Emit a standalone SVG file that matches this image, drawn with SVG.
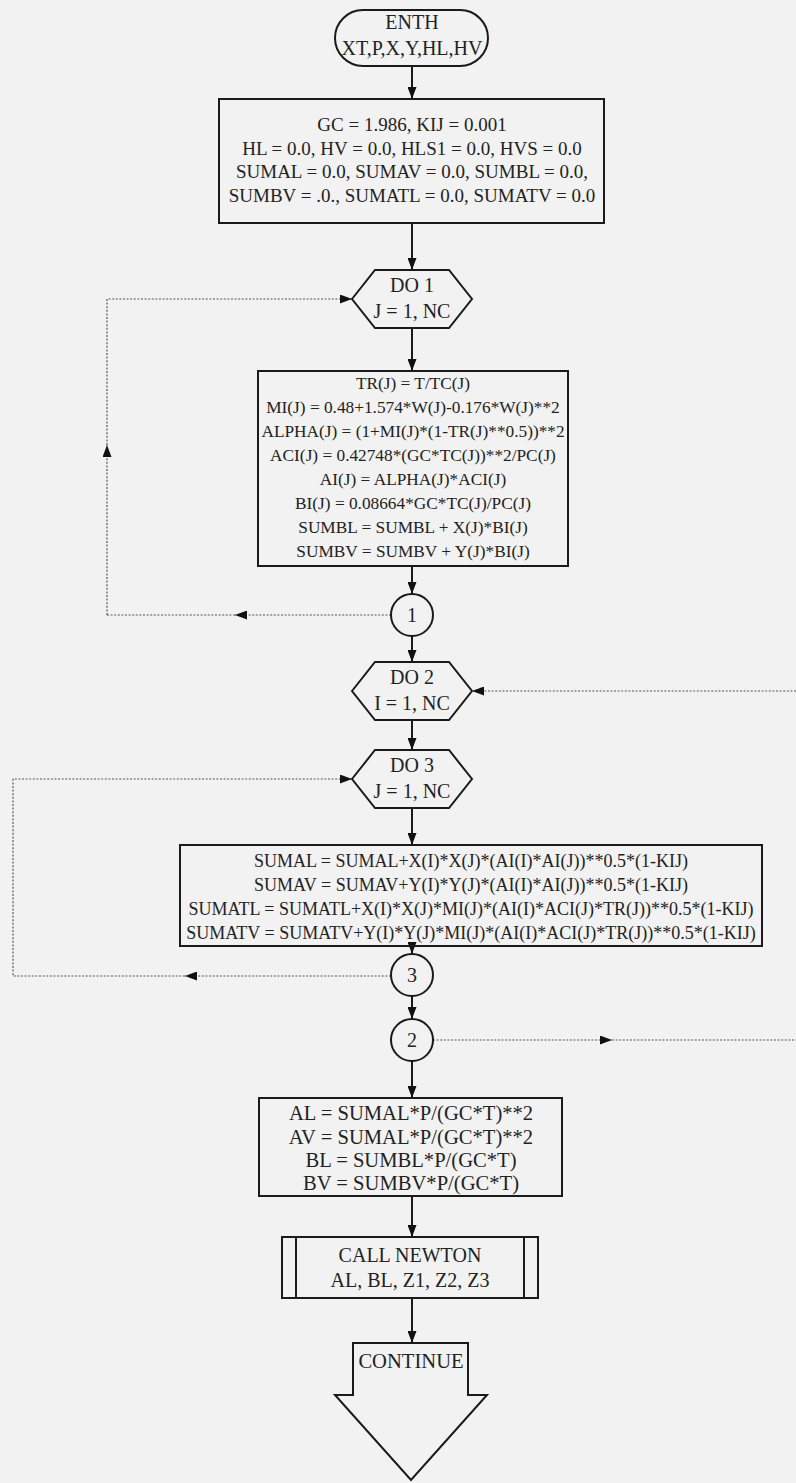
<svg xmlns="http://www.w3.org/2000/svg" width="796" height="1483" viewBox="0 0 796 1483">
  <style>
    .bg { fill: #f2f2f2; }
    .shape { fill: none; stroke: #1a1a1a; stroke-width: 2; }
    .flow { fill: none; stroke: #1a1a1a; stroke-width: 2; }
    .loop { fill: none; stroke: #555; stroke-width: 1.2; stroke-dasharray: 2 1.6; }
    text { font-family: "Liberation Serif", "Times New Roman", serif; font-size: 20px; fill: #222; text-anchor: middle; }
    .t19 { font-size: 19px; }
    .t18 { font-size: 18px; }
    .t17 { font-size: 17.3px; }
    .t21 { font-size: 20.6px; }
  </style>
  <defs>
    <marker id="ah" viewBox="0 0 12 9" refX="12" refY="4.5" markerWidth="12" markerHeight="9" markerUnits="userSpaceOnUse" orient="auto">
      <path d="M0,0 L12,4.5 L0,9 z" fill="#111"/>
    </marker>
  </defs>

  <rect class="bg" x="0" y="0" width="796" height="1483"/>

  <!-- connectors -->
  <g id="connectors">
    <!-- main flow -->
    <path class="flow" d="M412,66 V99" marker-end="url(#ah)"/>
    <path class="flow" d="M412,223 V270" marker-end="url(#ah)"/>
    <path class="flow" d="M412,328 V371" marker-end="url(#ah)"/>
    <path class="flow" d="M412,566 V594" marker-end="url(#ah)"/>
    <path class="flow" d="M412,636 V662" marker-end="url(#ah)"/>
    <path class="flow" d="M412,720 V750" marker-end="url(#ah)"/>
    <path class="flow" d="M412,808 V845" marker-end="url(#ah)"/>
    <path class="flow" d="M412,946 V954" marker-end="url(#ah)"/>
    <path class="flow" d="M412,996 V1019" marker-end="url(#ah)"/>
    <path class="flow" d="M412,1061 V1098" marker-end="url(#ah)"/>
    <path class="flow" d="M412,1196 V1237" marker-end="url(#ah)"/>
    <path class="flow" d="M412,1298 V1343" marker-end="url(#ah)"/>

    <!-- loop 1: back to DO 1 -->
    <path class="loop" d="M391,615 H235" marker-end="url(#ah)"/>
    <path class="loop" d="M235,615 H107"/>
    <path class="loop" d="M107,615 V445" marker-end="url(#ah)"/>
    <path class="loop" d="M107,445 V299 H352" marker-end="url(#ah)"/>

    <!-- loop 3: back to DO 3 -->
    <path class="loop" d="M391,976 H185" marker-end="url(#ah)"/>
    <path class="loop" d="M185,976 H13 V779 H352" marker-end="url(#ah)"/>

    <!-- loop 2: back to DO 2 -->
    <path class="loop" d="M433,1040 H612" marker-end="url(#ah)"/>
    <path class="loop" d="M612,1040 H796"/>
    <path class="loop" d="M796,691 H472" marker-end="url(#ah)"/>
  </g>

  <g id="enth">
    <rect class="shape" x="335" y="10" width="153" height="56" rx="28" ry="28"/>
    <text x="412" y="29">ENTH</text>
    <text x="412" y="55">XT,P,X,Y,HL,HV</text>
  </g>

  <g id="init">
    <rect class="shape" x="219" y="99" width="385" height="124"/>
    <text class="t19" x="412" y="131">GC = 1.986, KIJ = 0.001</text>
    <text class="t19" x="412" y="155">HL  = 0.0, HV = 0.0, HLS1 = 0.0, HVS = 0.0</text>
    <text class="t19" x="412" y="178">SUMAL = 0.0, SUMAV = 0.0, SUMBL = 0.0,</text>
    <text class="t19" x="412" y="202">SUMBV = .0., SUMATL = 0.0, SUMATV = 0.0</text>
  </g>

  <g id="do1">
    <polygon class="shape" points="352,299 375,270 449,270 472,299 449,328 375,328"/>
    <text x="412" y="292">DO 1</text>
    <text x="412" y="318">J = 1, NC</text>
  </g>

  <g id="calc-j">
    <rect class="shape" x="258" y="371" width="310" height="195"/>
    <text class="t17" x="413" y="389">TR(J) = T/TC(J)</text>
    <text class="t17" x="413" y="413">MI(J) = 0.48+1.574*W(J)-0.176*W(J)**2</text>
    <text class="t17" x="413" y="437">ALPHA(J) = (1+MI(J)*(1-TR(J)**0.5))**2</text>
    <text class="t17" x="413" y="461">ACI(J) = 0.42748*(GC*TC(J))**2/PC(J)</text>
    <text class="t17" x="413" y="485">AI(J) = ALPHA(J)*ACI(J)</text>
    <text class="t17" x="413" y="509">BI(J) = 0.08664*GC*TC(J)/PC(J)</text>
    <text class="t17" x="413" y="533">SUMBL = SUMBL + X(J)*BI(J)</text>
    <text class="t17" x="413" y="557">SUMBV = SUMBV + Y(J)*BI(J)</text>
  </g>

  <g id="c1">
    <circle class="shape" cx="412" cy="615" r="21"/>
    <text x="412" y="622">1</text>
  </g>

  <g id="do2">
    <polygon class="shape" points="352,691 375,662 449,662 472,691 449,720 375,720"/>
    <text x="412" y="684">DO 2</text>
    <text x="412" y="710">I = 1, NC</text>
  </g>

  <g id="do3">
    <polygon class="shape" points="352,779 375,750 449,750 472,779 449,808 375,808"/>
    <text x="412" y="772">DO 3</text>
    <text x="412" y="798">J = 1, NC</text>
  </g>

  <g id="calc-ij">
    <rect class="shape" x="180" y="845" width="582" height="101"/>
    <text class="t18" x="471" y="867">SUMAL = SUMAL+X(I)*X(J)*(AI(I)*AI(J))**0.5*(1-KIJ)</text>
    <text class="t18" x="471" y="891">SUMAV = SUMAV+Y(I)*Y(J)*(AI(I)*AI(J))**0.5*(1-KIJ)</text>
    <text class="t18" x="471" y="915">SUMATL = SUMATL+X(I)*X(J)*MI(J)*(AI(I)*ACI(J)*TR(J))**0.5*(1-KIJ)</text>
    <text class="t18" x="471" y="939">SUMATV = SUMATV+Y(I)*Y(J)*MI(J)*(AI(I)*ACI(J)*TR(J))**0.5*(1-KIJ)</text>
  </g>

  <g id="c3">
    <circle class="shape" cx="412" cy="975" r="21"/>
    <text x="412" y="982">3</text>
  </g>

  <g id="c2">
    <circle class="shape" cx="412" cy="1040" r="21"/>
    <text x="412" y="1047">2</text>
  </g>

  <g id="coeffs">
    <rect class="shape" x="259" y="1098" width="303" height="98"/>
    <text class="t21" x="411" y="1120">AL = SUMAL*P/(GC*T)**2</text>
    <text class="t21" x="411" y="1144">AV = SUMAL*P/(GC*T)**2</text>
    <text class="t21" x="411" y="1167">BL = SUMBL*P/(GC*T)</text>
    <text class="t21" x="411" y="1190">BV = SUMBV*P/(GC*T)</text>
  </g>

  <g id="newton">
    <rect class="shape" x="282" y="1237" width="256" height="61"/>
    <line class="shape" x1="296" y1="1237" x2="296" y2="1298"/>
    <line class="shape" x1="524" y1="1237" x2="524" y2="1298"/>
    <text x="410" y="1262">CALL NEWTON</text>
    <text x="410" y="1287">AL, BL, Z1, Z2, Z3</text>
  </g>

  <g id="continue">
    <polygon class="shape" points="353,1343 468,1343 468,1395 487,1395 411,1480 335,1395 353,1395"/>
    <text class="t21" x="411" y="1368">CONTINUE</text>
  </g>
</svg>
